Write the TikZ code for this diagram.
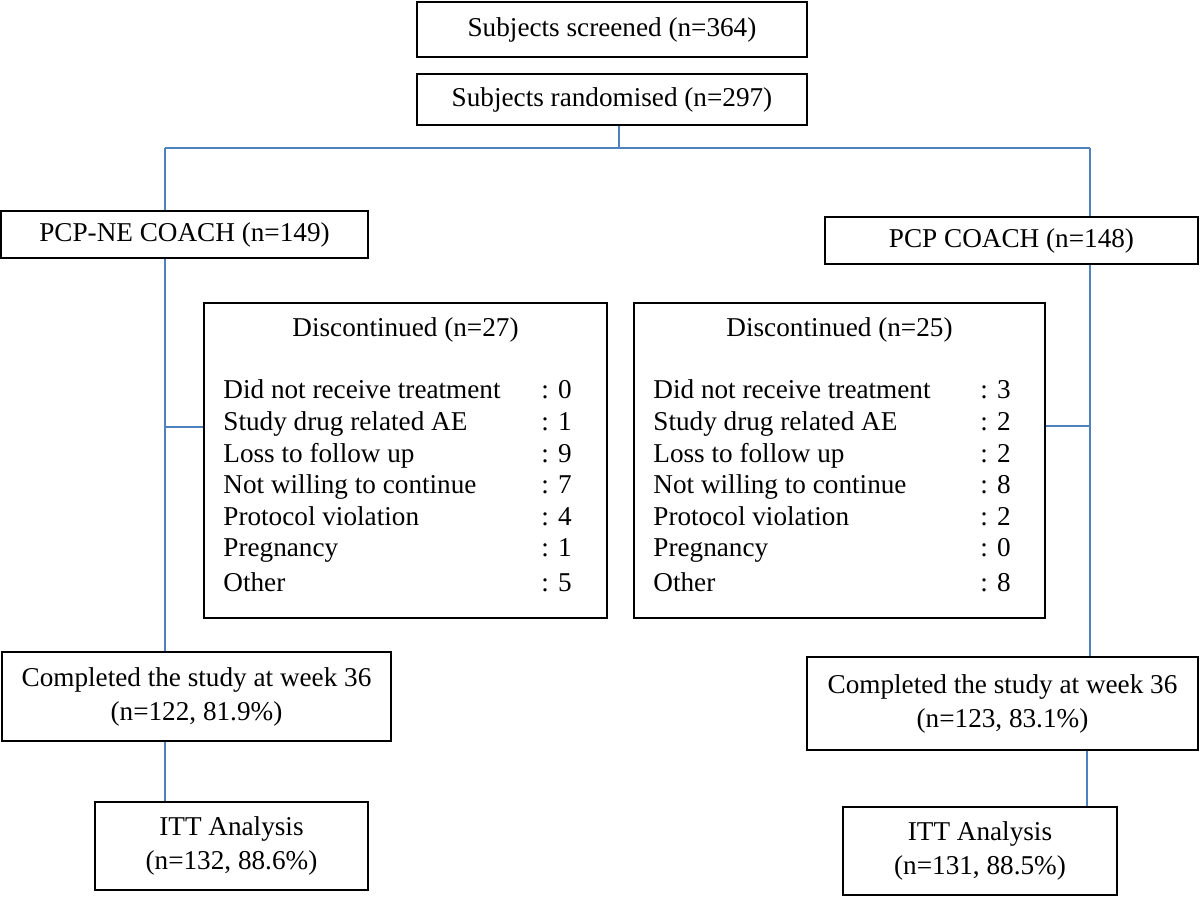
\documentclass[tikz,border=0pt]{standalone}
\usepackage{fontspec}
\setmainfont{Liberation Serif}
\definecolor{linkblue}{RGB}{79,129,189}
\begin{document}
\begin{tikzpicture}[x=0.5pt,y=-0.5pt,
  box/.style={draw=black, line width=1pt, inner sep=0pt, align=center,
    font=\fontsize{13.6}{17}\selectfont},
  link/.style={draw=linkblue, line width=1pt},
  lbl/.style={anchor=base west, inner sep=0pt, font=\fontsize{13.6}{17}\selectfont},
  ttl/.style={anchor=base, inner sep=0pt, font=\fontsize{13.6}{17}\selectfont}]
\useasboundingbox (0,0) rectangle (1200,897);

% boxes
\node[box, minimum width=195pt, minimum height=27.5pt] (scr) at (612,29.5) {Subjects screened (n=364)};
\node[box, minimum width=195pt, minimum height=25.5pt] (rnd) at (612,99.5) {Subjects randomised (n=297)};
\node[box, minimum width=183.5pt, minimum height=23.5pt] (ne) at (184.5,234.5) {PCP-NE COACH (n=149)};
\node[box, minimum width=186.5pt, minimum height=23.5pt] (pcp) at (1011.5,240.5) {PCP COACH (n=148)};
\node[box, minimum width=201.5pt, minimum height=157.5pt] (dL) at (405.5,460.5) {};
\node[box, minimum width=205.5pt, minimum height=157.5pt] (dR) at (839.5,460.5) {};
\node[box, minimum width=194.5pt, minimum height=44.5pt] (cL) at (196.5,696.5) {Completed the study at week 36\\(n=122, 81.9\%)};
\node[box, minimum width=195.5pt, minimum height=46.5pt] (cR) at (1002.5,703.5) {Completed the study at week 36\\(n=123, 83.1\%)};
\node[box, minimum width=136.5pt, minimum height=44pt] (iL) at (231.5,846) {ITT Analysis\\(n=132, 88.6\%)};
\node[box, minimum width=137pt, minimum height=44pt] (iR) at (980,851) {ITT Analysis\\(n=131, 88.5\%)};

% discontinued contents
\node[ttl] (tL) at (405.5,337) {Discontinued (n=27)};
\node[ttl] (tR) at (839.5,337) {Discontinued (n=25)};
\foreach \lab/\a/\b/\y [count=\i] in {
  Did not receive treatment/0/3/399,
  Study drug related AE/1/2/431,
  Loss to follow up/9/2/463,
  Not willing to continue/7/8/494,
  Protocol violation/4/2/526,
  Pregnancy/1/0/557,
  Other/5/8/592}{
  \node[lbl] (ll\i) at (223,\y) {\lab};
  \node[lbl] (lv\i) at (541,\y) {: \a};
  \node[lbl] (rl\i) at (653,\y) {\lab};
  \node[lbl] (rv\i) at (980,\y) {: \b};
}

% connectors
\coordinate (sp) at (619,148);
\coordinate (L) at (164.5,148);
\coordinate (R) at (1089.5,148);
\coordinate (bl) at (164.5,427);
\coordinate (br) at (1089.5,426);
\draw[link] (rnd.south -| sp) -- (sp);
\draw[link] (L) -- (R);
\draw[link] (L) -- (L |- ne.north);
\draw[link] (ne.south -| L) -- (cL.north -| L);
\draw[link] (bl) -- (bl -| dL.west);
\draw[link] (cL.south -| L) -- (iL.north -| L);
\draw[link] (R) -- (R |- pcp.north);
\draw[link] (pcp.south -| R) -- (cR.north -| R);
\draw[link] (br) -- (br -| dR.east);
\coordinate (R2) at (1086.5,0);
\draw[link] (cR.south -| R2) -- (iR.north -| R2);
\end{tikzpicture}
\end{document}
